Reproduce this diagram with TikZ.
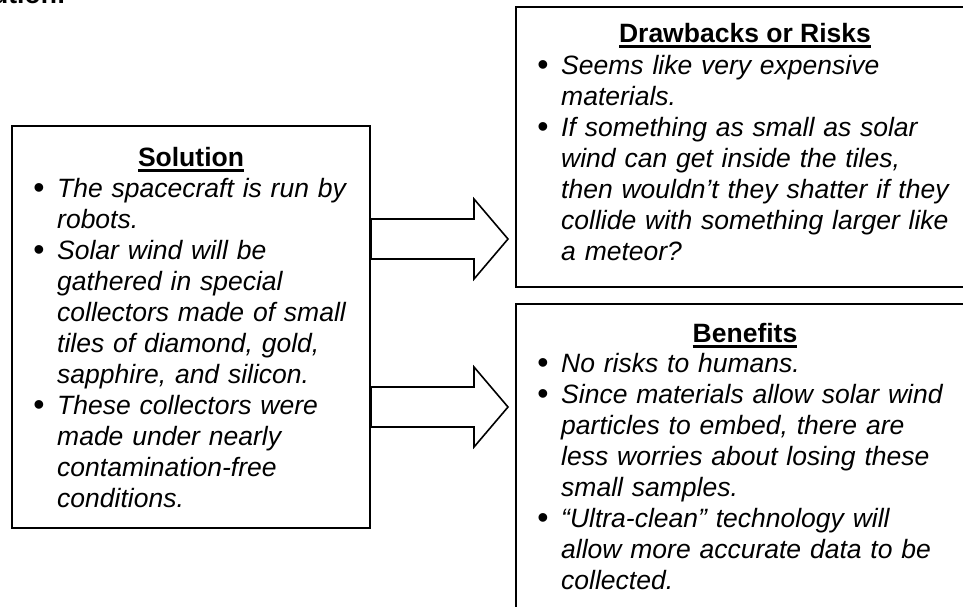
\documentclass[tikz,border=0pt]{standalone}
\usepackage{fontspec}
\setmainfont{Liberation Sans}
\usetikzlibrary{arrows}

\newcommand{\hdr}[1]{\setbox0\hbox{\bfseries #1}\rlap{\vrule height -3pt depth 5.5pt width \wd0}\box0}
\newcommand{\itm}{\noindent\hangindent=24pt\hangafter=1\hbox to 24pt{\raisebox{-1pt}{\fontsize{32}{31}\selectfont\textbullet}\hss}}

\begin{document}
\begin{tikzpicture}[x=1pt,y=1pt]
    \tikzstyle{panel}=[draw=black,line width=2pt,fill=white,inner sep=0pt]
    \tikzstyle{head}=[anchor=base,inner sep=0pt,font=\fontsize{26.5}{31}\selectfont]
    \tikzstyle{body}=[anchor=base west,inner sep=0pt,text width=440pt,font=\fontsize{26.5}{31}\selectfont\itshape\raggedright]
    \tikzstyle{edge}=[draw=black,line width=1.6pt,fill=white,line join=miter]

    \def\hb{474}

    \useasboundingbox (0,0) rectangle (963,-606);

    \node[anchor=base east,inner sep=0pt,font=\fontsize{26.5}{31}\selectfont\bfseries] (cap) at (66,-3) {ution:};

    \node[panel,minimum width=358pt,minimum height=402pt] (sol) at (191,-327) {};
    \node[panel,minimum width=458pt,minimum height=280pt] (drw) at (745,-147) {};
    \node[panel,minimum width=458pt,minimum height=336pt] (ben) at (745,-472) {};

    \coordinate (tipA) at (508,-239);
    \coordinate (tipB) at (508,-407);

    \path[edge] (sol.east |- 0,-219) -- (\hb,-219) -- (\hb,-199) -- (tipA) -- (\hb,-279) -- (\hb,-259) -- (sol.east |- 0,-259) -- cycle;
    \path[edge] (sol.east |- 0,-387) -- (\hb,-387) -- (\hb,-367) -- (tipB) -- (\hb,-447) -- (\hb,-427) -- (sol.east |- 0,-427) -- cycle;

    \node[head] (solhead) at (191,-166) {\hdr{Solution}};
    \node[head] (drwhead) at (745,-42) {\hdr{Drawbacks or Risks}};
    \node[head] (benhead) at (745,-342) {\hdr{Benefits}};

    \node[body] (solbody) at (33,-197) {\itm The spacecraft is run by\newline robots.\par
        \itm Solar wind will be\newline gathered in special\newline collectors made of small\newline tiles of diamond, gold,\newline sapphire, and silicon.\par
        \itm These collectors were\newline made under nearly\newline contamination-free\newline conditions.\par};

    \node[body] (drwbody) at (537,-74) {\itm Seems like very expensive\newline materials.\par
        \itm If something as small as solar\newline wind can get inside the tiles,\newline then wouldn’t they shatter if they\newline collide with something larger like\newline a meteor?\par};

    \node[body] (benbody) at (537,-372) {\itm No risks to humans.\par
        \itm Since materials allow solar wind\newline particles to embed, there are\newline less worries about losing these\newline small samples.\par
        \itm “Ultra-clean” technology will\newline allow more accurate data to be\newline collected.\par};
\end{tikzpicture}
\end{document}
